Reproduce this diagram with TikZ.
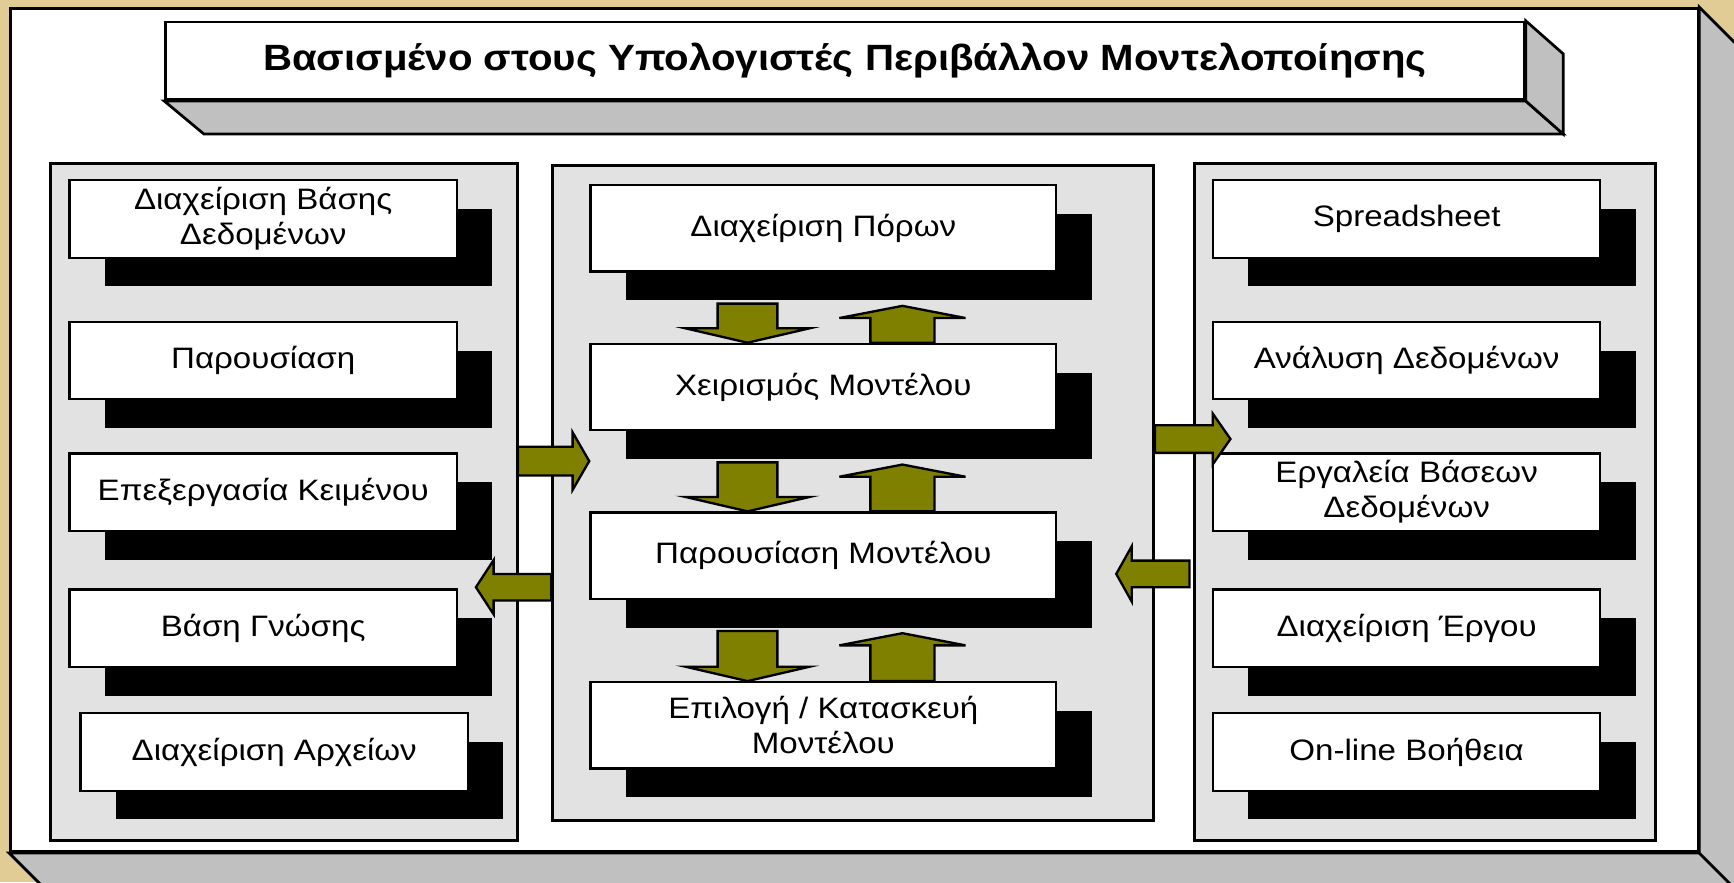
\documentclass[tikz,border=0pt]{standalone}
\usepackage{fontspec}
\setmainfont{Liberation Sans}
\newfontfamily\boxfont[FakeStretch=1.12]{Liberation Sans}
\newfontfamily\titlefont[FakeStretch=1.1]{Liberation Sans}
\usetikzlibrary{shadows,calc}
\definecolor{bgtan}{RGB}{226,204,150}
\definecolor{olivearrow}{RGB}{128,128,0}
\definecolor{panelgrey}{RGB}{226,226,226}
\definecolor{bevelgrey}{RGB}{192,192,192}
\tikzset{
 frame/.style={draw=black, line width=0.7pt, fill=white, inner sep=0pt},
 bevel/.style={draw=black, line width=0.7pt, fill=bevelgrey, line join=miter},
 panel/.style={draw=black, line width=0.7pt, fill=panelgrey, inner sep=0pt},
 box/.style={draw=black, line width=0.6pt, fill=white, inner sep=0pt, align=center,
   font=\boxfont\fontsize{7.6}{9}\selectfont,
   general shadow={fill=black, shadow xshift=0.32cm, shadow yshift=-0.26cm}},
 sidebox/.style={box, minimum width=3.5cm, minimum height=0.7cm},
 midbox/.style={box, minimum width=4.21cm, minimum height=0.78cm},
 blk/.style={draw=black, line width=0.6pt, fill=olivearrow, line join=miter},
}
\newcommand{\blkdown}[3]{%
 \draw[blk] let \p1=(#1.south), \p2=(#2.north) in
  ({\x2 #3-0.27cm},{\y1-0.28cm}) -- ({\x2 #3+0.27cm},{\y1-0.28cm}) --
  ({\x2 #3+0.27cm},{\y2+0.13cm}) -- ({\x2 #3+0.56cm},{\y2+0.13cm}) --
  ({\x2 #3},{\y2}) -- ({\x2 #3-0.56cm},{\y2+0.13cm}) --
  ({\x2 #3-0.27cm},{\y2+0.13cm}) -- cycle;}
\newcommand{\blkup}[3]{%
 \draw[blk] let \p1=(#1.south), \p2=(#2.north) in
  ({\x2 #3-0.29cm},{\y2}) -- ({\x2 #3+0.29cm},{\y2}) --
  ({\x2 #3+0.29cm},{\y1-0.41cm}) -- ({\x2 #3+0.57cm},{\y1-0.41cm}) --
  ({\x2 #3},{\y1-0.30cm}) -- ({\x2 #3-0.57cm},{\y1-0.41cm}) --
  ({\x2 #3-0.29cm},{\y1-0.41cm}) -- cycle;}
\newcommand{\blkh}[5]{%
 \draw[blk] let \p1=(#1), \p2=(#2) in
  (\x1,{\y1+#3}) -- ({\x2-(#5)},{\y1+#3}) -- ({\x2-(#5)},{\y1+#4}) --
  (\x2,\y2) -- ({\x2-(#5)},{\y1-#4}) -- ({\x2-(#5)},{\y1-#3}) --
  (\x1,{\y1-#3}) -- cycle;}
\begin{document}
\begin{tikzpicture}[x=0.01cm,y=-0.01cm]
\useasboundingbox (0,0) rectangle (1568,798);
\fill[bgtan] (0,0) rectangle (1568,798);
% outer frame
\node[frame, minimum width=15.25cm, minimum height=7.62cm] (F) at (772.5,389) {};
\draw[bevel] (F.south west) -- (F.south east) -- ++(35,35) -- ($(F.south west)+(35,35)$) -- cycle;
\draw[bevel] (F.north east) -- ++(35,35) -- ($(F.south east)+(35,35)$) -- (F.south east) -- cycle;
% title
\node[frame, minimum width=12.28cm, minimum height=0.7cm, font=\titlefont\bfseries\fontsize{9.4}{11}\selectfont] (T) at (764,55) {Βασισμένο στους Υπολογιστές Περιβάλλον Μοντελοποίησης};
\draw[bevel] (T.south west) -- (T.south east) -- ++(34,30) -- ($(T.south west)+(36,30)$) -- cycle;
\draw[bevel] (T.north east) -- ++(34,30) -- ($(T.south east)+(34,30)$) -- (T.south east) -- cycle;
% panels
\node[panel, minimum width=4.22cm, minimum height=6.12cm] (PL) at (257,454) {};
\node[panel, minimum width=5.43cm, minimum height=5.92cm] (PM) at (771.5,446) {};
\node[panel, minimum width=4.17cm, minimum height=6.12cm] (PR) at (1288.5,454) {};
% left boxes
\node[sidebox] (L1) at (238,198) {Διαχείριση Βάσης\\Δεδομένων};
\node[sidebox] (L2) at (238,326) {Παρουσίαση};
\node[sidebox] (L3) at (238,445) {Επεξεργασία Κειμένου};
\node[sidebox] (L4) at (238,568) {Βάση Γνώσης};
\node[sidebox] (L5) at (248,680) {Διαχείριση Αρχείων};
% middle boxes
\node[midbox] (M1) at (744.5,206.5) {Διαχείριση Πόρων};
\node[midbox] (M2) at (744.5,350) {Χειρισμός Μοντέλου};
\node[midbox] (M3) at (744.5,502.5) {Παρουσίαση Μοντέλου};
\node[midbox] (M4) at (744.5,656) {Επιλογή / Κατασκευή\\Μοντέλου};
% right boxes
\node[sidebox] (R1) at (1272,198) {Spreadsheet};
\node[sidebox] (R2) at (1272,326) {Ανάλυση Δεδομένων};
\node[sidebox] (R3) at (1272,445) {Εργαλεία Βάσεων\\Δεδομένων};
\node[sidebox] (R4) at (1272,568) {Διαχείριση Έργου};
\node[sidebox] (R5) at (1272,680) {On-line Βοήθεια};
% vertical block arrows
\blkdown{M1}{M2}{-0.685cm}
\blkup{M1}{M2}{+0.715cm}
\blkdown{M2}{M3}{-0.685cm}
\blkup{M2}{M3}{+0.715cm}
\blkdown{M3}{M4}{-0.685cm}
\blkup{M3}{M4}{+0.715cm}
% horizontal block arrows
\coordinate (a1s) at ($(PL.east)+(-1,-37)$);
\coordinate (a1t) at (M2.west |- a1s);
\coordinate (a2s) at ($(PM.west)+(0,85)$);
\coordinate (a2t) at ($(PL.east)+(-39,77)$);
\coordinate (a3s) at ($(PM.east)+(0,-49)$);
\coordinate (a3t) at ($(PR.west)+(34,-57)$);
\coordinate (a4s) at ($(PR.west)+(-3,65)$);
\coordinate (a4t) at ($(PM.east)+(-35,73)$);
\blkh{a1s}{a1t}{0.13cm}{0.26cm}{0.15cm}
\blkh{a2s}{a2t}{0.12cm}{0.245cm}{-0.16cm}
\blkh{a3s}{a3t}{0.125cm}{0.23cm}{0.16cm}
\blkh{a4s}{a4t}{0.12cm}{0.25cm}{-0.14cm}
\end{tikzpicture}
\end{document}
